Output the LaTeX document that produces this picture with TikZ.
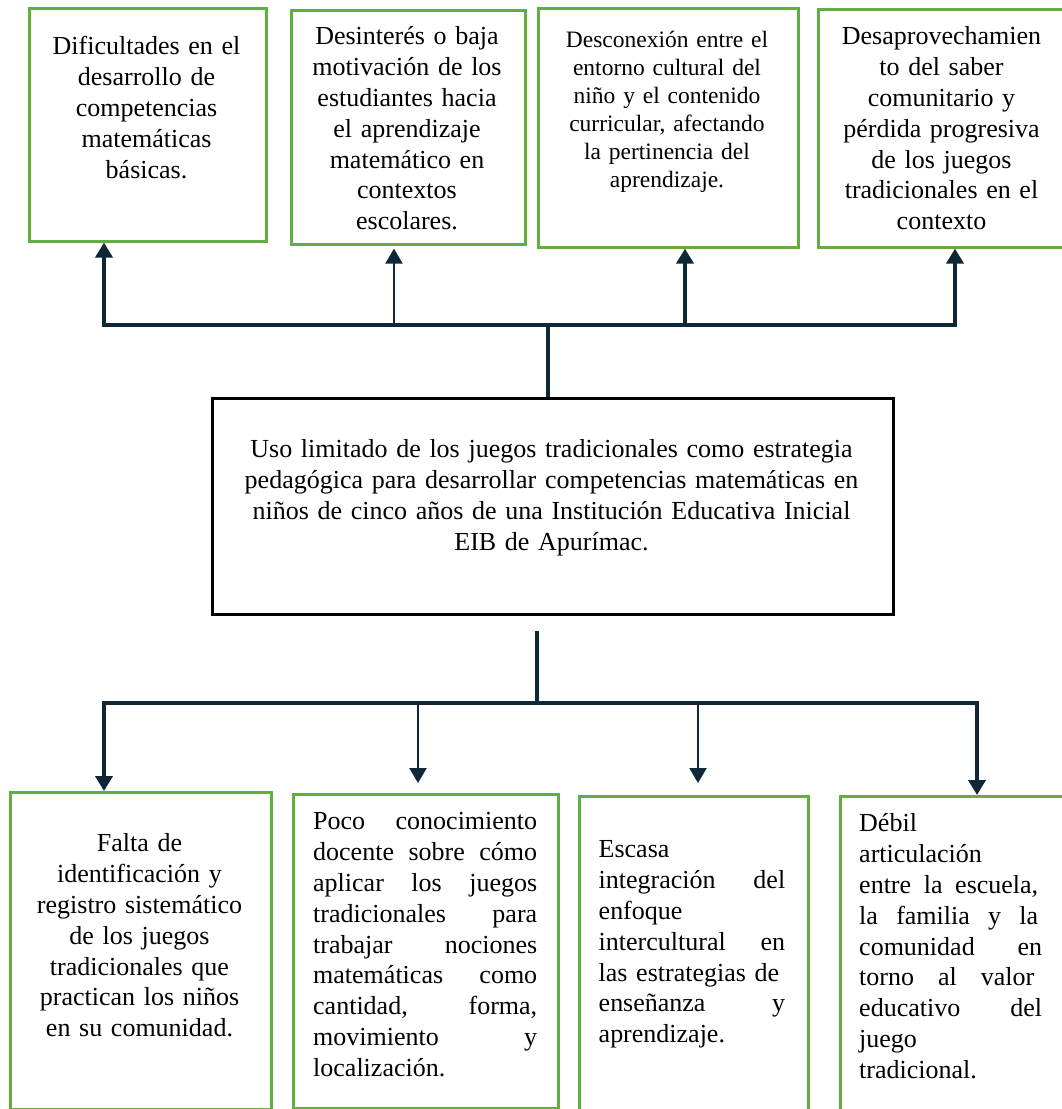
\documentclass[tikz,border=0pt]{standalone}
\usepackage{fontspec}
\setmainfont{Liberation Serif}
\usetikzlibrary{arrows.meta}

\definecolor{boxgreen}{RGB}{98,174,64}
\definecolor{linknavy}{RGB}{14,40,56}

% a justified line of a given width (words separated by \hfill),
% and a strut fixing the height of a first line
\newcommand\jline[2]{\leavevmode\hbox to #1pt{#2}}
\newcommand\firstline{\rule{0pt}{23.5pt}}
\newcommand\bigtext{\fontsize{26}{30.85}\selectfont}
\newcommand\smalltext{\fontsize{23.5}{27.9}\selectfont}

\tikzset{
  gbox/.style={draw=boxgreen, line width=2.6pt, inner sep=0pt, anchor=north west},
  corebox/.style={draw=black, line width=2.6pt, inner sep=0pt, anchor=north west},
  link/.style={draw=linknavy, line width=4pt},
  thinlink/.style={draw=linknavy, line width=2.2pt},
  tip/.style={-{Triangle[width=17pt,length=15pt]}},
  ctext/.style={inner sep=0pt, anchor=north, align=center, font=\bigtext},
  ltext/.style={inner sep=0pt, anchor=north west, align=left, font=\bigtext}
}

\begin{document}
\begin{tikzpicture}[x=1pt,y=-1pt]
\useasboundingbox (0,0) rectangle (1061,1109);

% consequences (top row)
\node[gbox, minimum width=237pt, minimum height=233pt] (t1) at (28,7) {};
\node[gbox, minimum width=234pt, minimum height=234pt] (t2) at (290,9) {};
\node[gbox, minimum width=260pt, minimum height=239pt] (t3) at (537,7) {};
\node[gbox, minimum width=249pt, minimum height=238pt] (t4) at (817,8) {};

\node[ctext, text width=230pt] (t1txt) at (146.5,31)
  {\firstline Dificultades en el\\desarrollo de\\competencias\\matemáticas\\básicas.};
\node[ctext, text width=228pt] (t2txt) at (407,21)
  {\firstline Desinterés o baja\\motivación de los\\estudiantes hacia\\el aprendizaje\\matemático en\\contextos\\escolares.};
\node[ctext, text width=254pt, font=\smalltext] (t3txt) at (667,24)
  {\firstline Desconexión entre el\\entorno cultural del\\niño y el contenido\\curricular, afectando\\la pertinencia del\\aprendizaje.};
\node[ctext, text width=244pt] (t4txt) at (941.5,21)
  {\firstline Desaprovechamien\\to del saber\\comunitario y\\pérdida progresiva\\de los juegos\\tradicionales en el\\contexto};

% central problem
\node[corebox, minimum width=681pt, minimum height=216pt] (core) at (211,397) {};
\node[ctext, text width=670pt] (coretxt) at (551.5,434)
  {\firstline Uso limitado de los juegos tradicionales como estrategia\\pedagógica para desarrollar competencias matemáticas en\\niños de cinco años de una Institución Educativa Inicial\\EIB de Apurímac.};

% causes (bottom row)
\node[gbox, minimum width=261pt, minimum height=317pt] (b1) at (9,791) {};
\node[gbox, minimum width=265pt, minimum height=314pt] (b2) at (292,793) {};
\node[gbox, minimum width=229pt, minimum height=322pt] (b3) at (578,795) {};
\node[gbox, minimum width=227pt, minimum height=322pt] (b4) at (839,795) {};

\node[ctext, text width=255pt] (b1txt) at (139.5,828)
  {\firstline Falta de\\identificación y\\registro sistemático\\de los juegos\\tradicionales que\\practican los niños\\en su comunidad.};
\node[ltext, text width=226pt] (b2txt) at (313,806)
  {\firstline\jline{224}{Poco\hfill conocimiento}\\
   \jline{224}{docente\hfill sobre\hfill cómo}\\
   \jline{224}{aplicar\hfill los\hfill juegos}\\
   \jline{224}{tradicionales\hfill para}\\
   \jline{224}{trabajar\hfill nociones}\\
   \jline{224}{matemáticas\hfill como}\\
   \jline{224}{cantidad,\hfill forma,}\\
   \jline{224}{movimiento\hfill y}\\
   localización.};
\node[ltext, text width=190pt] (b3txt) at (598.5,834)
  {\firstline Escasa\\
   \jline{186.5}{integración\hfill del}\\
   enfoque\\
   \jline{186.5}{intercultural\hfill en}\\
   las estrategias de\\
   \jline{186.5}{enseñanza\hfill y}\\
   aprendizaje.};
\node[ltext, text width=190pt] (b4txt) at (859,808)
  {\firstline Débil\\
   articulación\\
   \jline{179}{entre\hfill la\hfill escuela,}\\
   \jline{179}{la\hfill familia\hfill y\hfill la}\\
   \jline{183}{comunidad\hfill en}\\
   \jline{175}{torno\hfill al\hfill valor}\\
   \jline{183}{educativo\hfill del}\\
   juego\\
   tradicional.};

% connectors from the problem up to its consequences
\coordinate (hubT) at (548,325);
\coordinate (a1) at (104,325);
\coordinate (a2) at (394,325);
\coordinate (a3) at (685,325);
\coordinate (a4) at (955,325);
\draw[link] (hubT |- core.north) -- (hubT);
\draw[link, tip] (hubT) -- (a1) -- (a1 |- t1.south);
\draw[link, tip] (hubT) -- (a4) -- (a4 |- t4.south);
\draw[thinlink, tip] (a2) -- ([yshift=-3pt]a2 |- t2.south);
\draw[link, tip] (a3) -- (a3 |- t3.south);

% connectors from the problem down to its causes
\coordinate (dropTop) at (537,631);
\coordinate (hubB) at (537,703);
\coordinate (d1) at (104,703);
\coordinate (d2) at (418,703);
\coordinate (d3) at (698,703);
\coordinate (d4) at (977,703);
\draw[link] (dropTop) -- (hubB);
\draw[link, tip] (hubB) -- (d1) -- (d1 |- b1.north);
\draw[link, tip] (hubB) -- (d4) -- (d4 |- b4.north);
\draw[thinlink, tip] (d2) -- ([yshift=10pt]d2 |- b2.north);
\draw[thinlink, tip] (d3) -- ([yshift=12pt]d3 |- b3.north);
\end{tikzpicture}
\end{document}
